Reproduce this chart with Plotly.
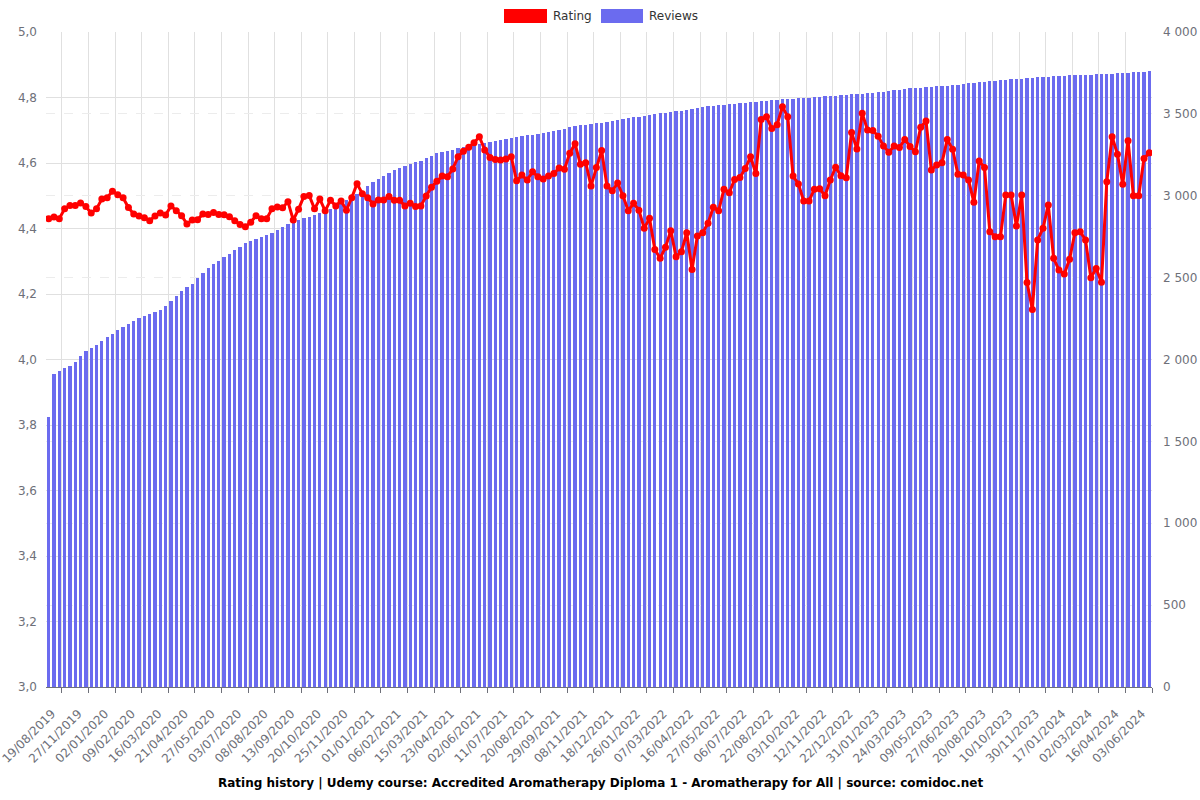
import plotly.graph_objects as go

# ---- data ----
tick_labels = [
    "19/08/2019", "27/11/2019", "02/01/2020", "09/02/2020", "16/03/2020", "21/04/2020",
    "27/05/2020", "03/07/2020", "08/08/2020", "13/09/2020", "20/10/2020", "25/11/2020",
    "01/01/2021", "06/02/2021", "15/03/2021", "23/04/2021", "02/06/2021", "11/07/2021",
    "20/08/2021", "29/09/2021", "08/11/2021", "18/12/2021", "26/01/2022", "07/03/2022",
    "16/04/2022", "27/05/2022", "06/07/2022", "22/08/2022", "03/10/2022", "12/11/2022",
    "22/12/2022", "31/01/2023", "24/03/2023", "09/05/2023", "27/06/2023", "20/08/2023",
    "10/10/2023", "30/11/2023", "17/01/2024", "02/03/2024", "16/04/2024", "03/06/2024",
]

rating = [
    4.43, 4.435, 4.43, 4.46, 4.47, 4.47, 4.478, 4.467, 4.447, 4.46,
    4.49, 4.494, 4.514, 4.503, 4.494, 4.464, 4.444, 4.438, 4.433, 4.424,
    4.438, 4.447, 4.441, 4.469, 4.454, 4.439, 4.414, 4.426, 4.427, 4.444,
    4.443, 4.449, 4.443, 4.442, 4.436, 4.424, 4.412, 4.405, 4.419, 4.439,
    4.43, 4.43, 4.46, 4.466, 4.463, 4.482, 4.426, 4.459, 4.498, 4.501,
    4.46, 4.49, 4.454, 4.486, 4.469, 4.484, 4.456, 4.494, 4.537, 4.506,
    4.494, 4.475, 4.487, 4.487, 4.498, 4.486, 4.486, 4.469, 4.477, 4.467,
    4.469, 4.499, 4.526, 4.544, 4.56, 4.558, 4.582, 4.619, 4.636, 4.648,
    4.662, 4.68, 4.64, 4.617, 4.611, 4.609, 4.612, 4.619, 4.546, 4.563,
    4.548, 4.573, 4.558, 4.551, 4.56, 4.568, 4.585, 4.581, 4.63, 4.659,
    4.596, 4.601, 4.53, 4.586, 4.638, 4.53, 4.515, 4.539, 4.5, 4.454,
    4.477, 4.456, 4.401, 4.431, 4.336, 4.309, 4.343, 4.393, 4.314, 4.329,
    4.387, 4.275, 4.377, 4.387, 4.416, 4.465, 4.454, 4.52, 4.509, 4.55,
    4.556, 4.583, 4.619, 4.568, 4.733, 4.741, 4.705, 4.717, 4.772, 4.741,
    4.56, 4.536, 4.484, 4.484, 4.52, 4.521, 4.5, 4.548, 4.587, 4.561,
    4.555, 4.693, 4.643, 4.752, 4.701, 4.699, 4.682, 4.652, 4.633, 4.652,
    4.647, 4.672, 4.65, 4.634, 4.709, 4.728, 4.579, 4.594, 4.601, 4.672,
    4.642, 4.566, 4.563, 4.548, 4.48, 4.606, 4.586, 4.39, 4.375, 4.375,
    4.502, 4.502, 4.408, 4.502, 4.235, 4.153, 4.365, 4.401, 4.472, 4.309,
    4.273, 4.261, 4.306, 4.387, 4.39, 4.365, 4.25, 4.278, 4.236, 4.543,
    4.68, 4.627, 4.535, 4.668, 4.5, 4.5, 4.614, 4.631,
]

reviews = [
    1651, 1910, 1930, 1946, 1962, 1985, 2021, 2054, 2070, 2088,
    2111, 2135, 2158, 2178, 2197, 2217, 2235, 2252, 2264, 2276,
    2290, 2302, 2327, 2359, 2388, 2416, 2441, 2461, 2498, 2528,
    2557, 2581, 2603, 2628, 2646, 2671, 2689, 2709, 2722, 2735,
    2748, 2760, 2773, 2791, 2807, 2825, 2841, 2854, 2864, 2872,
    2884, 2895, 2907, 2919, 2937, 2954, 2972, 2990, 3011, 3031,
    3061, 3082, 3100, 3123, 3141, 3157, 3168, 3180, 3196, 3208,
    3215, 3231, 3243, 3259, 3269, 3276, 3282, 3289, 3296, 3303,
    3310, 3317, 3324, 3330, 3336, 3342, 3347, 3353, 3358, 3364,
    3369, 3374, 3379, 3383, 3387, 3393, 3401, 3409, 3417, 3426,
    3430, 3434, 3438, 3442, 3446, 3452, 3457, 3463, 3468, 3473,
    3478, 3484, 3489, 3494, 3499, 3503, 3507, 3511, 3515, 3519,
    3524, 3530, 3536, 3542, 3548, 3551, 3554, 3557, 3560, 3563,
    3566, 3569, 3572, 3575, 3578, 3581, 3584, 3587, 3589, 3591,
    3593, 3595, 3597, 3600, 3602, 3605, 3607, 3610, 3612, 3615,
    3617, 3619, 3621, 3624, 3627, 3630, 3633, 3636, 3640, 3644,
    3648, 3652, 3655, 3657, 3660, 3663, 3665, 3668, 3671, 3673,
    3676, 3679, 3682, 3686, 3689, 3692, 3695, 3698, 3701, 3704,
    3707, 3710, 3712, 3715, 3718, 3720, 3723, 3726, 3728, 3731,
    3732, 3734, 3735, 3736, 3738, 3739, 3740, 3741, 3742, 3744,
    3746, 3748, 3750, 3752, 3754, 3756, 3758, 3760,
]

rating_ticks = [3.0, 3.2, 3.4, 3.6, 3.8, 4.0, 4.2, 4.4, 4.6, 4.8, 5.0]
review_ticks = [0, 500, 1000, 1500, 2000, 2500, 3000, 3500, 4000]

idx = list(range(len(reviews)))
# labels sit on every 5th category (nudged slightly right, as in the reference)
label_pos = [i + 0.6 for i in range(0, len(reviews), 5)][:len(tick_labels)]

FONT = "DejaVu Sans"
GRAY = "#6e7079"
GRID = "#e0e0e0"
BAR = "#6b6bef"
RED = "#ff0000"

fig = go.Figure()
fig.add_trace(go.Bar(
    x=idx, y=reviews, name="Reviews", yaxis="y",
    marker=dict(color=BAR, line=dict(width=0)), width=0.62,
    hovertemplate="%{y}<extra>Reviews</extra>",
))
fig.add_trace(go.Scatter(
    x=idx, y=rating, name="Rating", yaxis="y2", mode="lines+markers",
    line=dict(color=RED, width=3), marker=dict(color=RED, size=7),
    hovertemplate="%{y}<extra>Rating</extra>",
))

fig.update_layout(
    width=1200, height=800,
    margin=dict(l=46, r=48, t=32, b=113, autoexpand=False),
    paper_bgcolor="white", plot_bgcolor="white",
    showlegend=False,
    font=dict(family=FONT, size=12, color=GRAY),
    bargap=0,
    xaxis=dict(
        range=[-0.5, len(reviews) - 0.5], automargin=False,
        tickmode="array", tickvals=label_pos, ticktext=tick_labels,
        tickangle=-45, ticks="", showgrid=False, zeroline=False,
        ticklabeloverflow="allow", ticklabelstandoff=14,
        showline=True, linecolor=GRAY, linewidth=1,
        tickfont=dict(family=FONT, size=12, color=GRAY),
        minor=dict(tick0=2.5, dtick=5, ticks="outside", ticklen=5,
                   tickcolor=GRAY, showgrid=True, gridcolor=GRID, gridwidth=1),
    ),
    yaxis=dict(
        side="right", range=[0, 4000], automargin=False,
        tickmode="array", tickvals=review_ticks,
        ticktext=[f"{v:,}".replace(",", " ") for v in review_ticks],
        showgrid=True, gridcolor="#ececec", griddash="dash", zeroline=False,
        ticks="", ticklabelstandoff=10, showline=False,
        tickfont=dict(family=FONT, size=12, color=GRAY),
    ),
    yaxis2=dict(
        side="left", overlaying="y", range=[3, 5], automargin=False,
        tickmode="array", tickvals=rating_ticks,
        ticktext=[f"{v:.1f}".replace(".", ",") for v in rating_ticks],
        showgrid=True, gridcolor=GRID, zeroline=False,
        ticks="", ticklabelstandoff=8, showline=False,
        tickfont=dict(family=FONT, size=12, color=GRAY),
    ),
)

# legend drawn at the top centre
fig.add_shape(type="rect", xref="paper", yref="paper", x0=(504-46)/1106, x1=(547-46)/1106,
              y0=(687-23)/655, y1=(687-9)/655, fillcolor=RED, line=dict(width=0), layer="above")
fig.add_shape(type="rect", xref="paper", yref="paper", x0=(601-46)/1106, x1=(643-46)/1106,
              y0=(687-23)/655, y1=(687-9)/655, fillcolor=BAR, line=dict(width=0), layer="above")
fig.add_annotation(text="Rating", xref="paper", yref="paper", x=(551-46)/1106, y=(687-16)/655,
                   xanchor="left", yanchor="middle", showarrow=False,
                   font=dict(family=FONT, size=12, color="#333333"))
fig.add_annotation(text="Reviews", xref="paper", yref="paper", x=(647-46)/1106, y=(687-16)/655,
                   xanchor="left", yanchor="middle", showarrow=False,
                   font=dict(family=FONT, size=12, color="#333333"))
fig.add_annotation(
    text="<b>Rating history | Udemy course: Accredited Aromatherapy Diploma 1 - Aromatherapy for All | source: comidoc.net</b>",
    xref="paper", yref="paper", x=(600-46)/1106, y=(687-783)/655,
    xanchor="center", yanchor="middle", showarrow=False,
    font=dict(family=FONT, size=12, color="#000000"))

fig.write_html("out.html")
